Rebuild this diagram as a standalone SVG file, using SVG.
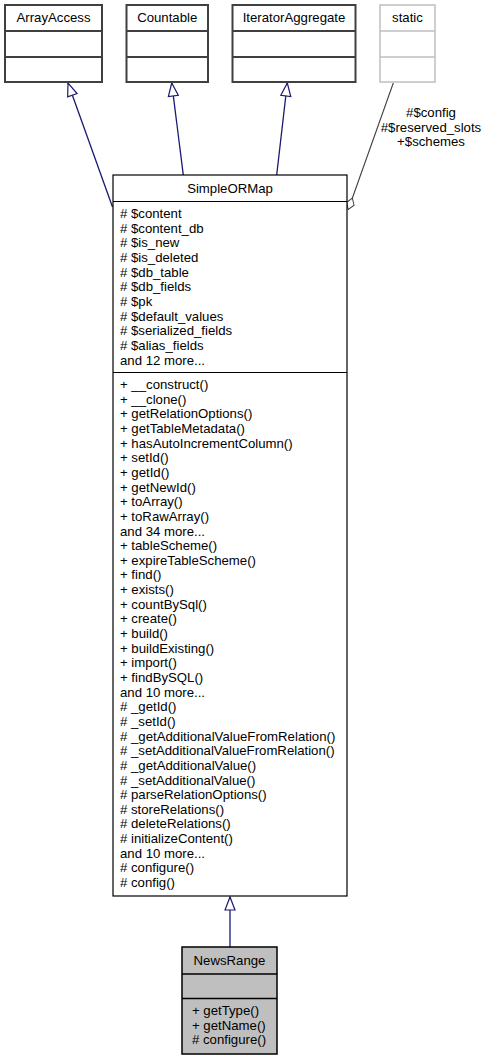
<svg xmlns="http://www.w3.org/2000/svg" width="486" height="1059" viewBox="0 0 486 1059">
<style>
text { font-family: "Liberation Sans", Arial, Helvetica, sans-serif; font-size: 13.2px; fill: #000; }
.c { text-anchor: middle; }
.iface { fill: #fff; stroke: #404040; stroke-width: 2; }
.ghost { fill: #fff; stroke: #bfbfbf; stroke-width: 1.5; }
.main { fill: #fff; stroke: #000; stroke-width: 1.2; }
.cur { fill: #bfbfbf; stroke: #000; stroke-width: 1.5; }
.inh { stroke: #191970; stroke-width: 1.3; fill: none; marker-end: url(#tri); }
.agg { stroke: #404040; stroke-width: 1.1; fill: none; marker-end: url(#dia); }
</style>
<defs>
<marker id="tri" markerUnits="userSpaceOnUse" viewBox="-1 -6 15 12" refX="13" refY="0" markerWidth="15" markerHeight="12" orient="auto" overflow="visible">
<path d="M0,-5 L13,0 L0,5 Z" fill="#fff" stroke="#191970" stroke-width="1.2"/>
</marker>
<marker id="dia" markerUnits="userSpaceOnUse" viewBox="-1 -5 14 10" refX="12" refY="0" markerWidth="14" markerHeight="10" orient="auto" overflow="visible">
<path d="M0,0 L6,-4 L12,0 L6,4 Z" fill="#fff" stroke="#404040" stroke-width="1"/>
</marker>
</defs>
<rect width="486" height="1059" fill="#fff"/>

<g id="edges">
<line class="inh" x1="112.5" y1="207" x2="68" y2="83"/>
<line class="inh" x1="183.3" y1="175" x2="171.7" y2="83"/>
<line class="inh" x1="276.7" y1="175" x2="287.3" y2="83"/>
<line class="agg" x1="393.3" y1="83" x2="348.3" y2="209.5"/>
<line class="inh" x1="230" y1="947" x2="230" y2="897"/>
<text class="c" x="431" y="117">#$config</text>
<text class="c" x="431" y="131.7">#$reserved_slots</text>
<text class="c" x="431" y="146.3">+$schemes</text>
</g>

<g id="ArrayAccess">
<rect class="iface" x="5" y="5" width="97" height="77"/>
<line class="iface" x1="5" y1="31" x2="102" y2="31"/>
<line class="iface" x1="5" y1="57" x2="102" y2="57"/>
<text class="c" x="53.5" y="22">ArrayAccess</text>
</g>

<g id="Countable">
<rect class="iface" x="126.5" y="5" width="81.5" height="77"/>
<line class="iface" x1="126.5" y1="31" x2="208" y2="31"/>
<line class="iface" x1="126.5" y1="57" x2="208" y2="57"/>
<text class="c" x="167.2" y="22">Countable</text>
</g>

<g id="IteratorAggregate">
<rect class="iface" x="232.5" y="5" width="123" height="77"/>
<line class="iface" x1="232.5" y1="31" x2="355.5" y2="31"/>
<line class="iface" x1="232.5" y1="57" x2="355.5" y2="57"/>
<text class="c" x="294" y="22">IteratorAggregate</text>
</g>

<g id="static">
<rect class="ghost" x="380" y="5" width="55" height="77"/>
<line class="ghost" x1="380" y1="31" x2="435" y2="31"/>
<line class="ghost" x1="380" y1="57" x2="435" y2="57"/>
<text class="c" x="407.5" y="22">static</text>
</g>

<g id="SimpleORMap">
<rect class="main" x="113" y="175" width="234" height="721"/>
<line class="main" x1="113" y1="201.5" x2="347" y2="201.5"/>
<line class="main" x1="113" y1="372.5" x2="347" y2="372.5"/>
<text class="c" x="230" y="192.5">SimpleORMap</text>
<text x="120" y="218">
<tspan x="120" dy="0"># $content</tspan>
<tspan x="120" dy="14.65"># $content_db</tspan>
<tspan x="120" dy="14.65"># $is_new</tspan>
<tspan x="120" dy="14.65"># $is_deleted</tspan>
<tspan x="120" dy="14.65"># $db_table</tspan>
<tspan x="120" dy="14.65"># $db_fields</tspan>
<tspan x="120" dy="14.65"># $pk</tspan>
<tspan x="120" dy="14.65"># $default_values</tspan>
<tspan x="120" dy="14.65"># $serialized_fields</tspan>
<tspan x="120" dy="14.65"># $alias_fields</tspan>
<tspan x="120" dy="14.65">and 12 more...</tspan>
</text>
<text x="120" y="389">
<tspan x="120" dy="0">+ __construct()</tspan>
<tspan x="120" dy="14.65">+ __clone()</tspan>
<tspan x="120" dy="14.65">+ getRelationOptions()</tspan>
<tspan x="120" dy="14.65">+ getTableMetadata()</tspan>
<tspan x="120" dy="14.65">+ hasAutoIncrementColumn()</tspan>
<tspan x="120" dy="14.65">+ setId()</tspan>
<tspan x="120" dy="14.65">+ getId()</tspan>
<tspan x="120" dy="14.65">+ getNewId()</tspan>
<tspan x="120" dy="14.65">+ toArray()</tspan>
<tspan x="120" dy="14.65">+ toRawArray()</tspan>
<tspan x="120" dy="14.65">and 34 more...</tspan>
<tspan x="120" dy="14.65">+ tableScheme()</tspan>
<tspan x="120" dy="14.65">+ expireTableScheme()</tspan>
<tspan x="120" dy="14.65">+ find()</tspan>
<tspan x="120" dy="14.65">+ exists()</tspan>
<tspan x="120" dy="14.65">+ countBySql()</tspan>
<tspan x="120" dy="14.65">+ create()</tspan>
<tspan x="120" dy="14.65">+ build()</tspan>
<tspan x="120" dy="14.65">+ buildExisting()</tspan>
<tspan x="120" dy="14.65">+ import()</tspan>
<tspan x="120" dy="14.65">+ findBySQL()</tspan>
<tspan x="120" dy="14.65">and 10 more...</tspan>
<tspan x="120" dy="14.65"># _getId()</tspan>
<tspan x="120" dy="14.65"># _setId()</tspan>
<tspan x="120" dy="14.65"># _getAdditionalValueFromRelation()</tspan>
<tspan x="120" dy="14.65"># _setAdditionalValueFromRelation()</tspan>
<tspan x="120" dy="14.65"># _getAdditionalValue()</tspan>
<tspan x="120" dy="14.65"># _setAdditionalValue()</tspan>
<tspan x="120" dy="14.65"># parseRelationOptions()</tspan>
<tspan x="120" dy="14.65"># storeRelations()</tspan>
<tspan x="120" dy="14.65"># deleteRelations()</tspan>
<tspan x="120" dy="14.65"># initializeContent()</tspan>
<tspan x="120" dy="14.65">and 10 more...</tspan>
<tspan x="120" dy="14.65"># configure()</tspan>
<tspan x="120" dy="14.65"># config()</tspan>
</text>
</g>

<g id="NewsRange">
<rect class="cur" x="182" y="947" width="95" height="107"/>
<line class="cur" x1="182" y1="974" x2="277" y2="974"/>
<line class="cur" x1="182" y1="998.5" x2="277" y2="998.5"/>
<text class="c" x="229.5" y="964.5">NewsRange</text>
<text x="192" y="1015">
<tspan x="192" dy="0">+ getType()</tspan>
<tspan x="192" dy="14.65">+ getName()</tspan>
<tspan x="192" dy="14.65"># configure()</tspan>
</text>
</g>
</svg>
